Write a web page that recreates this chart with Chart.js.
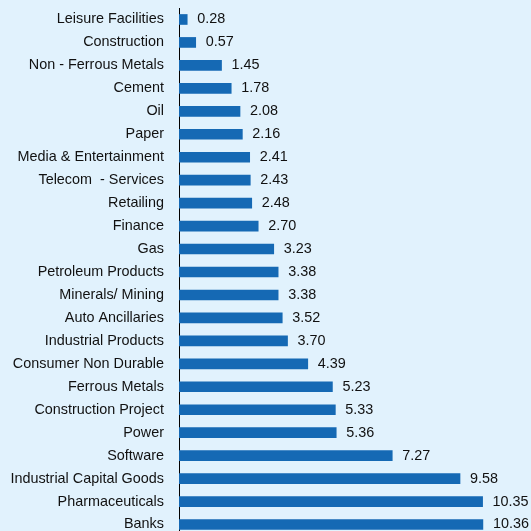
<!DOCTYPE html>
<html>
<head>
<meta charset="utf-8">
<script src="https://cdn.jsdelivr.net/npm/chart.js@4/dist/chart.umd.min.js"></script>
<style>
  html, body { margin: 0; padding: 0; background: #e1f2fd; overflow: hidden; }
  #sector-chart { display: block; }
</style>
</head>
<body>
<canvas id="sector-chart" width="531" height="536"></canvas>
<script>
// Sector allocation (% of net assets)
const sectors = [
  'Leisure Facilities', 'Construction', 'Non - Ferrous Metals', 'Cement', 'Oil',
  'Paper', 'Media & Entertainment', 'Telecom  - Services', 'Retailing', 'Finance',
  'Gas', 'Petroleum Products', 'Minerals/ Mining', 'Auto Ancillaries',
  'Industrial Products', 'Consumer Non Durable', 'Ferrous Metals',
  'Construction Project', 'Power', 'Software', 'Industrial Capital Goods',
  'Pharmaceuticals', 'Banks'
];
const weights = [
  0.28, 0.57, 1.45, 1.78, 2.08, 2.16, 2.41, 2.43, 2.48, 2.70, 3.23, 3.38,
  3.38, 3.52, 3.70, 4.39, 5.23, 5.33, 5.36, 7.27, 9.58, 10.35, 10.36
];

const FONT = '"Liberation Sans", Arial, sans-serif';

// value text at the end of each bar
const valueLabels = {
  id: 'valueLabels',
  afterDatasetsDraw(chart) {
    const ctx = chart.ctx;
    const meta = chart.getDatasetMeta(0);
    ctx.save();
    ctx.font = '14.4px ' + FONT;
    ctx.fillStyle = '#111';
    ctx.textAlign = 'left';
    ctx.textBaseline = 'middle';
    meta.data.forEach((bar, i) => {
      ctx.fillText(weights[i].toFixed(2), bar.x + 10, bar.y);
    });
    ctx.restore();
  }
};

const ctx = document.getElementById('sector-chart').getContext('2d');
const sectorChart = new Chart(ctx, {
  type: 'bar',
  data: {
    labels: sectors,
    datasets: [{
      data: weights,
      backgroundColor: '#1569b4',
      barThickness: 10
    }]
  },
  options: {
    indexAxis: 'y',
    responsive: false,
    animation: false,
    layout: { padding: { top: 8, right: 0, bottom: 0, left: 0 } },
    scales: {
      x: { display: false, min: 0, max: 12 },
      y: {
        afterFit(scale) {
          scale.width = 179;
          scale.paddingTop = 0;
          scale.paddingBottom = 0;
        },
        grid: { display: false, drawTicks: false },
        border: { display: true, color: '#000', width: 1 },
        ticks: {
          padding: 15,
          color: '#111',
          font: { family: FONT, size: 14.4 },
          autoSkip: false
        }
      }
    },
    plugins: {
      legend: { display: false },
      tooltip: { enabled: false }
    }
  },
  plugins: [valueLabels]
});
</script>
</body>
</html>
